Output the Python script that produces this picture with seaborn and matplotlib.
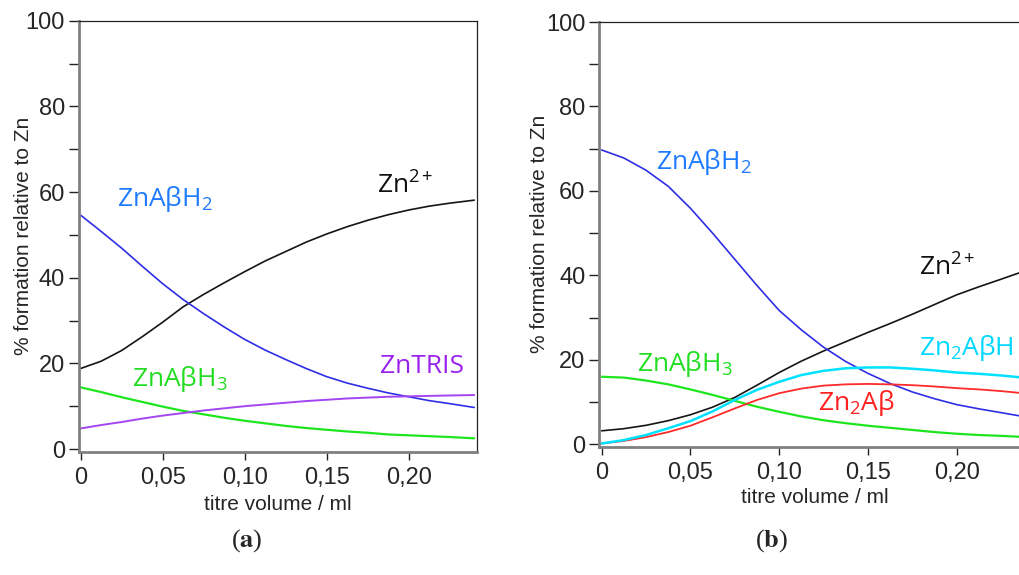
"""
Zn speciation vs titre volume, two panels
"""

import seaborn as sns
import matplotlib.pyplot as plt
import pandas as pd

#-----------------------------------
# data
vol = [0, 0.0125, 0.025, 0.0375, 0.05, 0.0625, 0.075, 0.0875, 0.10, 0.1125,
       0.125, 0.1375, 0.15, 0.1625, 0.175, 0.1875, 0.20, 0.2125, 0.225, 0.24]

# panel (a)
zn_a = [18.8, 20.5, 23.0, 26.2, 29.6, 33.2, 36.1, 38.8, 41.4, 43.9,
        46.1, 48.3, 50.2, 51.9, 53.4, 54.7, 55.8, 56.7, 57.4, 58.1]
znabh2_a = [54.6, 50.8, 46.9, 42.7, 38.6, 34.9, 31.6, 28.5, 25.6, 23.1,
            20.9, 18.8, 16.9, 15.4, 14.2, 13.1, 12.2, 11.3, 10.6, 9.7]
znabh3_a = [14.4, 13.3, 12.1, 11.0, 9.9, 8.9, 8.1, 7.3, 6.6, 6.0,
            5.4, 4.9, 4.5, 4.1, 3.8, 3.4, 3.2, 3.0, 2.8, 2.5]
zntris_a = [4.8, 5.6, 6.3, 7.1, 7.8, 8.4, 9.0, 9.5, 10.0, 10.4,
            10.8, 11.2, 11.5, 11.8, 12.0, 12.2, 12.3, 12.4, 12.5, 12.6]

# panel (b)
zn_b = [3.2, 3.7, 4.5, 5.6, 7.0, 8.8, 11.1, 14.0, 17.0, 19.7,
        22.1, 24.3, 26.5, 28.6, 30.8, 33.1, 35.4, 37.3, 39.1, 41.3]
znabh2_b = [69.7, 67.8, 64.9, 61.1, 55.9, 50.0, 43.8, 37.6, 31.7, 27.1,
            23.0, 19.6, 16.8, 14.4, 12.4, 10.8, 9.4, 8.4, 7.5, 6.4]
zn2abh_b = [0.2, 1.0, 2.2, 3.8, 5.5, 7.8, 10.5, 12.9, 14.8, 16.4,
            17.4, 18.0, 18.2, 18.2, 17.9, 17.5, 17.0, 16.7, 16.3, 15.7]
zn2ab_b = [0.2, 0.8, 1.7, 2.9, 4.4, 6.4, 8.5, 10.5, 12.1, 13.2,
           13.9, 14.2, 14.3, 14.2, 14.0, 13.7, 13.3, 13.0, 12.6, 12.0]
znabh3_b = [16.0, 15.8, 15.1, 14.2, 13.0, 11.7, 10.3, 8.9, 7.7, 6.6,
            5.7, 5.0, 4.4, 3.9, 3.4, 2.9, 2.5, 2.2, 2.0, 1.7]

xtick_vals = [0, 0.05, 0.10, 0.15, 0.20]
xtick_labels = ['0', '0,05', '0,10', '0,15', '0,20']

line_colors = {'Zn': '#151515', 'ZnABH2': '#2E2EE6', 'ZnABH3': '#1EE61E',
               'ZnTRIS': '#A346F2', 'Zn2ABH': '#00E1FF', 'Zn2AB': '#FF2A2A'}
label_colors = {'Zn': '#111111', 'ZnABH2': '#1F7BFF', 'ZnABH3': '#22DD22',
                'ZnTRIS': '#9A22EE', 'Zn2ABH': '#00D8FF', 'Zn2AB': '#FF2020'}
widths = {'Zn': 1.2, 'ZnABH2': 1.2, 'ZnABH3': 1.6, 'ZnTRIS': 1.4,
          'Zn2ABH': 1.8, 'Zn2AB': 1.3}

#-----------------------------------
def long_df(x, series):
    rows = []
    for name, vals in series.items():
        for v, y in zip(x, vals):
            rows.append({'vol': v, 'pct': y, 'sp': name})
    return pd.DataFrame(rows)


def style_axes(ax, xlim, ylim):
    ax.set_xlim(*xlim)
    ax.set_ylim(*ylim)
    for s in ['left', 'bottom']:
        ax.spines[s].set_color('#808080')
        ax.spines[s].set_linewidth(2.0)
    for s in ['top', 'right']:
        ax.spines[s].set_color('#222222')
        ax.spines[s].set_linewidth(0.9)
    ax.set_yticks([0, 20, 40, 60, 80, 100])
    ax.set_yticks([10, 30, 50, 70, 90], minor=True)
    ax.set_xticks(xtick_vals, xtick_labels)
    ax.tick_params(axis='y', which='both', direction='out', length=7,
                   width=1, color='#222222', labelsize=17, pad=3)
    ax.tick_params(axis='x', which='both', direction='out', length=6,
                   width=1, color='#222222', labelsize=17, pad=5)
    ax.tick_params(top=False, right=False)
    ax.set_xlabel('titre volume / ml', fontsize=15)
    ax.set_ylabel('% formation relative to Zn', fontsize=15)


def draw(ax, df):
    sns.lineplot(data=df, x='vol', y='pct', hue='sp', palette=line_colors,
                 legend=False, ax=ax, sort=False)
    for line, name in zip(ax.get_lines(), df['sp'].unique()):
        line.set_linewidth(widths[name])


def tag(ax, x, y, txt, key, ha='center'):
    ax.text(x, y, txt, color=label_colors[key], fontsize=19, ha=ha,
            va='center', family='Open Sans')

#-----------------------------------
sns.set_style('ticks')
plt.rcParams['font.family'] = ['Liberation Sans', 'DejaVu Sans']
plt.rcParams['mathtext.fontset'] = 'stix'

fig = plt.figure(figsize=(10.19, 5.75), dpi=100)
ax1 = fig.add_axes([0.0772, 0.2144, 0.3906, 0.7496])
ax2 = fig.add_axes([0.5881, 0.2231, 0.4119, 0.7386])

df_a = long_df(vol, {'Zn': zn_a, 'ZnABH2': znabh2_a,
                     'ZnABH3': znabh3_a, 'ZnTRIS': zntris_a})
df_b = long_df(vol, {'Zn': zn_b, 'ZnABH2': znabh2_b, 'ZnABH3': znabh3_b,
                     'Zn2AB': zn2ab_b, 'Zn2ABH': zn2abh_b})

draw(ax1, df_a)
draw(ax2, df_b)

style_axes(ax1, (-0.0012, 0.2415), (-0.63, 100))
style_axes(ax2, (-0.00135, 0.2351), (-0.57, 100))
ax2.spines['right'].set_visible(False)

ax1.yaxis.set_label_coords(-0.115, 0.5)
ax1.xaxis.set_label_coords(0.4995, -0.1)
ax2.yaxis.set_label_coords(-0.12, 0.5)
ax2.xaxis.set_label_coords(0.514, -0.097)

sub2 = r'$\mathregular{_2}$'
sub3 = r'$\mathregular{_3}$'
tag(ax1, 0.0514, 58.3, 'ZnAβH' + sub2, 'ZnABH2')
tag(ax1, 0.1805, 61.5, r'Zn$\mathregular{^{2+}}$', 'Zn', ha='left')
tag(ax1, 0.0606, 16.3, 'ZnAβH' + sub3, 'ZnABH3')
tag(ax1, 0.208, 19.2, 'ZnTRIS', 'ZnTRIS')

tag(ax2, 0.0577, 66.9, 'ZnAβH' + sub2, 'ZnABH2')
tag(ax2, 0.179, 41.8, r'Zn$\mathregular{^{2+}}$', 'Zn', ha='left')
tag(ax2, 0.047, 19.0, 'ZnAβH' + sub3, 'ZnABH3')
tag(ax2, 0.179, 22.7, 'Zn' + sub2 + 'AβH', 'Zn2ABH', ha='left')
tag(ax2, 0.1437, 9.9, 'Zn' + sub2 + 'Aβ', 'Zn2AB')

fig.text(0.2424, 0.059, r'($\mathbf{a}$)', fontsize=19, ha='center',
         va='center', family='Liberation Serif')
fig.text(0.7576, 0.059, r'($\mathbf{b}$)', fontsize=19, ha='center',
         va='center', family='Liberation Serif')

fig.savefig('out.png', dpi=100)
